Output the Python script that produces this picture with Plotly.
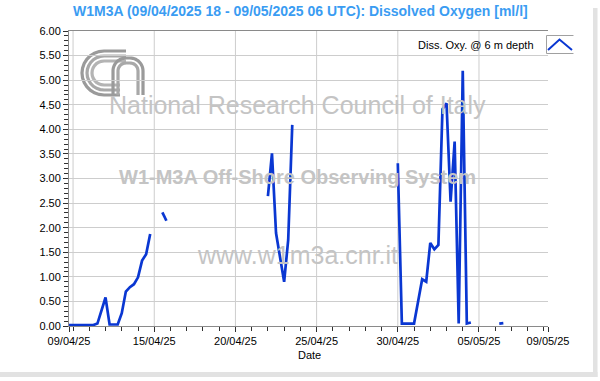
import pandas as pd
import plotly.graph_objects as go

# ---------------- data ----------------
title_text = "W1M3A (09/04/2025 18 - 09/05/2025 06 UTC): Dissolved Oxygen [ml/l]"
series_name = "Diss. Oxy. @ 6 m depth"
start_time = "2025-04-09 18:00"
end_time = "2025-05-09 06:00"
times = pd.date_range(start_time, end_time, freq="6h")

oxygen = [
    0.02, 0.02, 0.02, 0.02, 0.02, 0.02, 0.02, 0.05, 0.32, 0.58,
    0.03, 0.03, 0.03, 0.26, 0.70, 0.79, 0.85, 0.99, 1.33, 1.46,
    1.87, None, None, 2.31, 2.14, None, None, None, None, None,
    None, None, None, None, None, None, None, None, None, None,
    None, None, None, None, None, None, None, None, None, 2.64,
    3.51, 1.89, 1.40, 0.90, 1.75, 4.09, None, None, None, None,
    None, None, None, None, None, None, None, None, None, None,
    None, None, None, None, None, None, None, None, None, None,
    None, 3.31, 0.05, 0.05, 0.05, 0.05, 0.50, 0.95, 0.90, 1.69,
    1.56, 1.65, 4.41, 4.53, 2.53, 3.75, 0.05, 5.19, 0.05, 0.07,
    None, None, None, None, None, None, 0.05, 0.06, None, None,
    None, None, None, None, None, None, None, None, None,
]

xtick_vals = ["2025-04-09 18:00", "2025-04-15", "2025-04-20", "2025-04-25",
              "2025-04-30", "2025-05-05", "2025-05-09 06:00"]
xtick_text = ["09/04/25", "15/04/25", "20/04/25", "25/04/25",
              "30/04/25", "05/05/25", "09/05/25"]
xgrid_vals = ["2025-04-10", "2025-04-15", "2025-04-20", "2025-04-25",
              "2025-04-30", "2025-05-05"]
xminor_vals = [d.strftime("%Y-%m-%d") for d in pd.date_range("2025-04-10", "2025-05-09", freq="D")]
ytick_vals = [0, 0.5, 1, 1.5, 2, 2.5, 3, 3.5, 4, 4.5, 5, 5.5, 6]

# ---------------- geometry helpers ----------------
W, H = 600, 381
REF_L, REF_T, REF_R, REF_B = 69, 31, 548, 326
L, T = REF_L, REF_T
PW = REF_R - REF_L
PH = REF_B - REF_T
R = W - L - PW
B = H - T - PH


def px(x):
    return (x - L) / PW


def py(y):
    return (T + PH - y) / PH


LINE_BLUE = "#0a37d2"
GRID = "#cdcdcd"
AXIS = "#8a8a8a"
WM = "#c4c4c4"
FONT = "Liberation Sans, Arial, sans-serif"

fig = go.Figure()
fig.add_trace(go.Scatter(x=times, y=oxygen, mode="lines", name=series_name,
                         line=dict(color=LINE_BLUE, width=2.7), connectgaps=False,
                         showlegend=False))

shapes = []
# vertical grid lines
for g in xgrid_vals:
    shapes.append(dict(type="line", xref="x", yref="paper", x0=g, x1=g, y0=0, y1=1,
                       line=dict(color=GRID, width=1), layer="below"))


def path_from(points):
    s = ""
    for i, (a, b) in enumerate(points):
        s += ("M" if i == 0 else "L") + f"{px(a):.4f},{py(b):.4f} "
    return s


def arc_pts(cx, cy, r, a0, a1, n=14):
    import math
    pts = []
    for k in range(n + 1):
        a = math.radians(a0 + (a1 - a0) * k / n)
        pts.append((cx + r * math.cos(a), cy - r * math.sin(a)))
    return pts


# CNR logo watermark (approximation)
for off, col in [(0, "#9a9a9a"), (5, "#a8a8a8"), (10, "#b4b4b4")]:
    pts = [(126, 51 + off)] + arc_pts(104, 73, 22 - off, 90, 270) + [(120, 95 - off)]
    shapes.append(dict(type="path", xref="paper", yref="paper", path=path_from(pts),
                       line=dict(color=col, width=3.2), layer="below"))
for off, col in [(0, "#9a9a9a"), (5, "#a8a8a8")]:
    pts = [(113 + off, 95)] + [(113 + off, 71)] + arc_pts(126, 71, 13 - off, 180, 90) + \
          arc_pts(130, 71, 13 - off, 90, 0) + [(143 - off, 95)]
    shapes.append(dict(type="path", xref="paper", yref="paper", path=path_from(pts),
                       line=dict(color=col, width=3.2), layer="below"))

# legend symbol box
shapes.append(dict(type="path", xref="paper", yref="paper",
                   path=path_from([(573.5, 35.5), (546.5, 35.5), (546.5, 53.5), (573.5, 53.5)]),
                   line=dict(color="#a0a0a0", width=1)))
shapes.append(dict(type="path", xref="paper", yref="paper",
                   path=path_from([(548, 50), (559.5, 39.5), (572, 50)]),
                   line=dict(color=LINE_BLUE, width=2)))

# window frame bands
shapes.append(dict(type="rect", xref="paper", yref="paper", x0=px(593), x1=px(597.5),
                   y0=py(377), y1=py(8), fillcolor="#e2e2e2", line=dict(width=0), layer="below"))
shapes.append(dict(type="rect", xref="paper", yref="paper", x0=px(0), x1=px(597.5),
                   y0=py(377), y1=py(372), fillcolor="#e2e2e2", line=dict(width=0), layer="below"))

annotations = [
    dict(text="<b>" + title_text + "</b>", xref="paper", yref="paper", x=px(300), y=py(11),
         showarrow=False, font=dict(family=FONT, size=14, color="#3a9cf2"),
         xanchor="center", yanchor="middle"),
    dict(text=series_name, xref="paper", yref="paper", x=px(536), y=py(45),
         showarrow=False, font=dict(family=FONT, size=11, color="#000000"),
         xanchor="right", yanchor="middle"),
    dict(text="Date", xref="paper", yref="paper", x=px(309), y=py(355),
         showarrow=False, font=dict(family=FONT, size=11, color="#000000"),
         xanchor="center", yanchor="middle"),
    dict(text="National Research Council of Italy", xref="paper", yref="paper",
         x=px(297), y=py(105), showarrow=False,
         font=dict(family=FONT, size=25, color=WM), xanchor="center", yanchor="middle"),
    dict(text="<b>W1-M3A Off-Shore Observing System</b>", xref="paper", yref="paper",
         x=px(297), y=py(177), showarrow=False,
         font=dict(family=FONT, size=20, color=WM), xanchor="center", yanchor="middle"),
    dict(text="www.w1m3a.cnr.it", xref="paper", yref="paper",
         x=px(297), y=py(255), showarrow=False,
         font=dict(family=FONT, size=25, color=WM), xanchor="center", yanchor="middle"),
]

fig.update_layout(
    width=W, height=H,
    margin=dict(l=L, r=R, t=T, b=B, pad=0),
    paper_bgcolor="white", plot_bgcolor="rgba(0,0,0,0)",
    shapes=shapes, annotations=annotations,
    showlegend=False,
    font=dict(family=FONT, size=11, color="#000000"),
    xaxis=dict(
        type="date", range=[start_time, end_time],
        tickmode="array", tickvals=xtick_vals, ticktext=xtick_text,
        showgrid=False, zeroline=False,
        showline=True, linecolor=AXIS, linewidth=1, mirror=True,
        ticks="outside", ticklen=5, tickcolor="#303030", tickwidth=1,
        tickfont=dict(family=FONT, size=11, color="#000000"),
        minor=dict(tickmode="array", tickvals=xminor_vals, ticks="outside", ticklen=4,
                   tickcolor="#303030", showgrid=False),
    ),
    yaxis=dict(
        range=[0, 6], tickmode="array", tickvals=ytick_vals, tickformat=".2f",
        showgrid=True, gridcolor=GRID, gridwidth=1, zeroline=False,
        showline=True, linecolor=AXIS, linewidth=1, mirror=False,
        ticks="outside", ticklen=5, tickcolor="#303030", tickwidth=1,
        tickfont=dict(family=FONT, size=11, color="#000000"),
        minor=dict(dtick=0.1, ticks="outside", ticklen=4, tickcolor="#303030", showgrid=False),
    ),
)

fig.write_html("out.html",
               config={"displayModeBar": False, "staticPlot": True},
               post_script="document.body.style.margin='0px';document.body.style.overflow='hidden';")
